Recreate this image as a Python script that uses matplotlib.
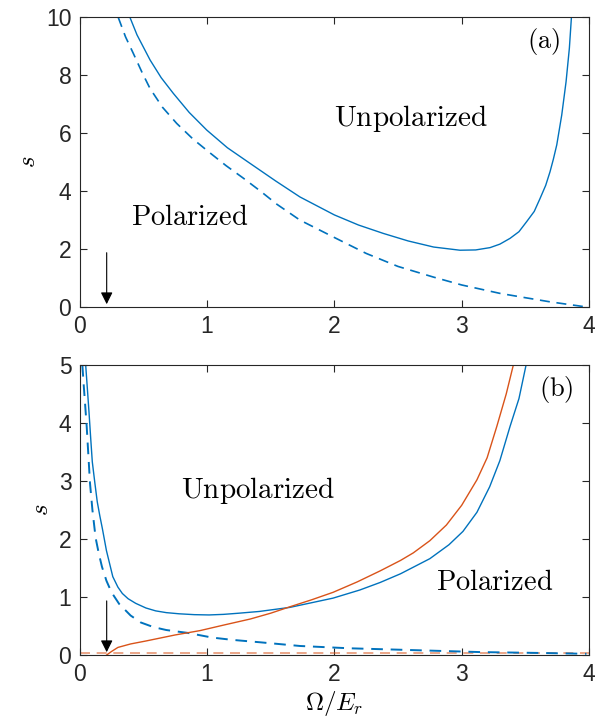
import matplotlib
matplotlib.use("Agg")
import matplotlib.pyplot as plt

matplotlib.rcParams['mathtext.fontset'] = 'cm'
matplotlib.rcParams['font.family'] = ['Liberation Sans', 'DejaVu Sans']

blue = '#0072BD'
orange = '#D95319'
axcol = '#262626'

# panel (a)
a_solid_x = [0.395, 0.45, 0.553, 0.64, 0.735, 0.86, 0.998, 1.16, 1.338, 1.54, 1.73, 2.0, 2.19, 2.385, 2.58, 2.78, 2.987,
             3.11, 3.223, 3.30, 3.38, 3.45, 3.511, 3.57, 3.616, 3.66, 3.694, 3.72, 3.747, 3.786, 3.82, 3.846, 3.862]
a_solid_y = [10.0, 9.4, 8.53, 7.92, 7.38, 6.72, 6.11, 5.5, 4.96, 4.35, 3.8, 3.18, 2.83, 2.54, 2.28, 2.07, 1.96,
             1.97, 2.05, 2.17, 2.37, 2.6, 2.95, 3.3, 3.75, 4.2, 4.67, 5.1, 5.6, 6.63, 7.78, 8.94, 10.0]
a_dash_x = [0.303, 0.36, 0.421, 0.49, 0.552, 0.65, 0.762, 0.89, 1.024, 1.15, 1.285, 1.42, 1.548, 1.73, 2.0, 2.25,
            2.5, 2.78, 3.0, 3.30, 3.5, 3.69, 3.85, 3.98]
a_dash_y = [10.0, 9.33, 8.76, 8.1, 7.55, 6.9, 6.34, 5.8, 5.32, 4.88, 4.45, 4.0, 3.55, 3.0, 2.4, 1.85, 1.4, 1.03, 0.76,
            0.47, 0.32, 0.18, 0.08, 0.0]

# panel (b)
b_solid_x = [0.047, 0.06, 0.073, 0.086, 0.099, 0.12, 0.138, 0.158, 0.178, 0.21, 0.26, 0.3, 0.335, 0.38, 0.44, 0.52,
             0.597, 0.68, 0.78, 0.9, 1.016, 1.13, 1.25, 1.41, 1.65, 1.99, 2.2, 2.36, 2.52, 2.75, 2.9, 3.01, 3.12,
             3.22, 3.30, 3.38, 3.45, 3.506]
b_solid_y = [5.0, 4.6, 4.19, 3.75, 3.33, 2.95, 2.64, 2.4, 2.18, 1.8, 1.35, 1.17, 1.06, 0.97, 0.89, 0.81,
             0.76, 0.73, 0.71, 0.695, 0.69, 0.70, 0.72, 0.75, 0.82, 0.98, 1.12, 1.25, 1.40, 1.66, 1.90, 2.13, 2.46,
             2.90, 3.35, 3.94, 4.42, 5.0]
b_dash_x = [0.021, 0.03, 0.04, 0.055, 0.068, 0.081, 0.10, 0.125, 0.15, 0.175, 0.21, 0.25, 0.31, 0.40, 0.48, 0.58,
            0.68, 0.78, 0.85, 1.04, 1.2, 1.41, 1.73, 2.12, 2.52, 3.14, 3.6, 3.98]
b_dash_y = [5.0, 4.7, 4.4, 3.94, 3.45, 2.96, 2.5, 2.02, 1.75, 1.52, 1.28, 1.08, 0.88, 0.68, 0.56, 0.48,
            0.43, 0.40, 0.38, 0.30, 0.26, 0.22, 0.155, 0.115, 0.09, 0.05, 0.035, 0.02]
b_or_x = [0.212, 0.25, 0.30, 0.40, 0.518, 0.75, 0.945, 1.14, 1.34, 1.5, 1.65, 1.82, 1.99, 2.18, 2.36, 2.52, 2.62,
          2.75, 2.88, 3.0, 3.12, 3.2, 3.276, 3.35, 3.406]
b_or_y = [0.0, 0.06, 0.13, 0.19, 0.24, 0.345, 0.42, 0.52, 0.62, 0.72, 0.83, 0.95, 1.08, 1.26, 1.45, 1.63, 1.76,
          1.97, 2.24, 2.58, 3.02, 3.4, 3.94, 4.5, 5.0]
b_base_x = [0.0, 4.0]
b_base_y = [0.03, 0.03]

arrow_x = 0.212

fig = plt.figure(figsize=(6.01, 7.25), dpi=100)
ax1 = fig.add_axes([0.1326, 0.5766, 0.8474, 0.3993])
ax2 = fig.add_axes([0.1326, 0.0966, 0.8474, 0.4000])

ax1.plot(a_solid_x, a_solid_y, color=blue, lw=1.0)
ax1.plot(a_dash_x, a_dash_y, color=blue, lw=1.2, ls=(0, (6, 4)))
ax1.annotate('', xy=(arrow_x, 0), xytext=(arrow_x, 1.97),
             arrowprops=dict(arrowstyle='-|>', color='black', lw=0.8, mutation_scale=18))
ax1.set_ylim(0, 10)
ax1.set_yticks([0, 2, 4, 6, 8, 10])
ax1.text(3.64, 9.17, r'$\mathrm{(a)}$', fontsize=19, ha='center', va='center')
ax1.text(2.6, 6.5, r'$\mathrm{Unpolarized}$', fontsize=21, ha='center', va='center')
ax1.text(0.86, 3.07, r'$\mathrm{Polarized}$', fontsize=20.5, ha='center', va='center')

ax2.plot(b_base_x, b_base_y, color=orange, alpha=0.6, lw=1.2, ls=(0, (6, 4)))
ax2.plot(b_solid_x, b_solid_y, color=blue, lw=1.0)
ax2.plot(b_dash_x, b_dash_y, color=blue, lw=1.4, ls=(0, (6, 4)))
ax2.plot(b_or_x, b_or_y, color=orange, lw=1.0)
ax2.annotate('', xy=(arrow_x, 0), xytext=(arrow_x, 0.98),
             arrowprops=dict(arrowstyle='-|>', color='black', lw=0.8, mutation_scale=18))
ax2.set_ylim(0, 5)
ax2.set_yticks([0, 1, 2, 3, 4, 5])
ax2.text(3.74, 4.57, r'$\mathrm{(b)}$', fontsize=19, ha='center', va='center')
ax2.text(1.40, 2.84, r'$\mathrm{Unpolarized}$', fontsize=21, ha='center', va='center')
ax2.text(3.26, 1.24, r'$\mathrm{Polarized}$', fontsize=20.5, ha='center', va='center')
ax2.set_xlabel(r'$\Omega/E_r$', fontsize=18, labelpad=2)

for ax in (ax1, ax2):
    ax.set_xlim(0, 4)
    ax.set_xticks([0, 1, 2, 3, 4])
    ax.set_ylabel(r'$s$', fontsize=18)
    ax.tick_params(direction='in', top=True, right=True, length=5, width=0.8,
                   colors=axcol, labelsize=16.5, pad=6)
    for sp in ax.spines.values():
        sp.set_color(axcol)
        sp.set_linewidth(0.8)

fig.savefig('out.png', dpi=100)
